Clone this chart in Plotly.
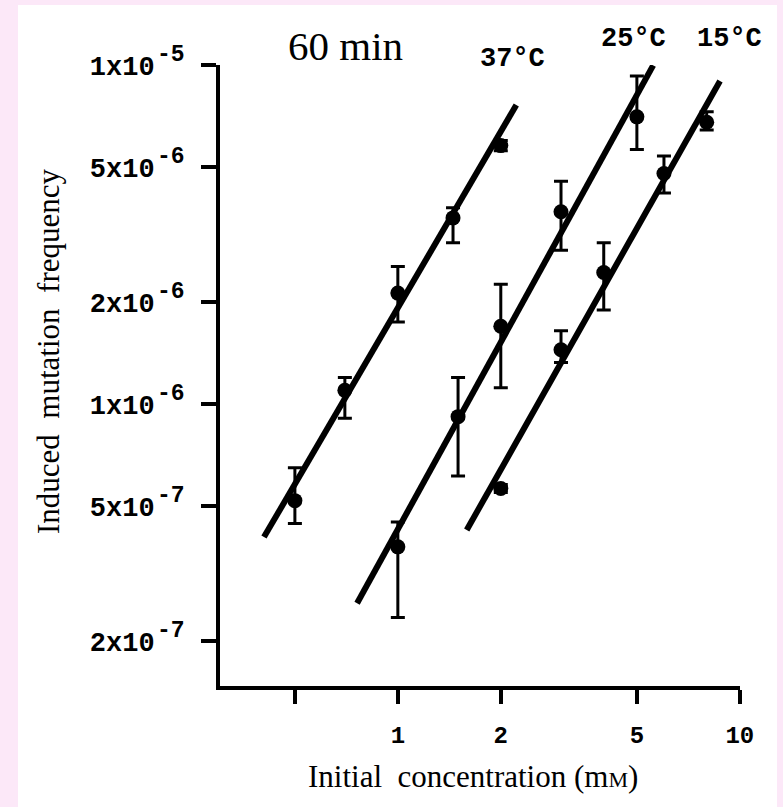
import math
import plotly.graph_objects as go

# ---------------- data ----------------
conc_37 = [0.5, 0.7, 1.0, 1.45, 2.0]
freq_37 = [5.2e-7, 1.10e-6, 2.13e-6, 3.55e-6, 5.8e-6]
upper_37 = [6.5e-7, 1.20e-6, 2.55e-6, 3.8e-6, 6.0e-6]
lower_37 = [4.45e-7, 9.1e-7, 1.75e-6, 3.0e-6, 5.6e-6]
fit_x_37 = [0.406, 2.22]
fit_y_37 = [4.06e-7, 7.64e-6]

conc_25 = [1.0, 1.5, 2.0, 3.0, 5.0]
freq_25 = [3.8e-7, 9.2e-7, 1.70e-6, 3.7e-6, 7.05e-6]
upper_25 = [4.5e-7, 1.20e-6, 2.26e-6, 4.55e-6, 9.3e-6]
lower_25 = [2.35e-7, 6.15e-7, 1.12e-6, 2.85e-6, 5.65e-6]
fit_x_25 = [0.76, 5.58]
fit_y_25 = [2.59e-7, 1.0e-5]

conc_15 = [2.0, 3.0, 4.0, 6.0, 8.0]
freq_15 = [5.65e-7, 1.45e-6, 2.45e-6, 4.8e-6, 6.8e-6]
upper_15 = [5.8e-7, 1.65e-6, 3.0e-6, 5.4e-6, 7.3e-6]
lower_15 = [5.5e-7, 1.33e-6, 1.9e-6, 4.2e-6, 6.45e-6]
fit_x_15 = [1.59, 8.75]
fit_y_15 = [4.26e-7, 9.0e-6]

x_tickvals = [0.5, 1, 2, 5, 10]
x_ticktext = ["", "1", "2", "5", "10"]
y_tickvals = [1e-5, 5e-6, 2e-6, 1e-6, 5e-7, 2e-7]
y_mantissa = ["1x10", "5x10", "2x10", "1x10", "5x10", "2x10"]
y_exponent = ["-5", "-6", "-6", "-6", "-7", "-7"]

series_labels = ["37°C", "25°C", "15°C"]
panel_title = "60 min"
x_title = "Initial  concentration (m<span style='font-size:22px'>M</span>)"
y_title = "Induced  mutation  frequency"

# ---------------- layout geometry ----------------
W, H = 783, 807
ML, MR, MT, MB = 220, 43, 65, 121
PW, PH = W - ML - MR, H - MT - MB


def px(xp):
    return (xp - ML) / PW


def py(yp):
    return (H - MB - yp) / PH


fig = go.Figure()

series = [
    (conc_37, freq_37, upper_37, lower_37, fit_x_37, fit_y_37),
    (conc_25, freq_25, upper_25, lower_25, fit_x_25, fit_y_25),
    (conc_15, freq_15, upper_15, lower_15, fit_x_15, fit_y_15),
]

for cx, fy, up, lo, fx, ffy in series:
    fig.add_trace(go.Scatter(
        x=fx, y=ffy, mode="lines",
        line=dict(color="black", width=6),
        cliponaxis=False, showlegend=False, hoverinfo="skip"))
    fig.add_trace(go.Scatter(
        x=cx, y=fy, mode="markers",
        marker=dict(color="black", size=15, symbol="circle"),
        error_y=dict(type="data", symmetric=False,
                     array=[u - v for u, v in zip(up, fy)],
                     arrayminus=[v - l for v, l in zip(fy, lo)],
                     color="black", thickness=3, width=7),
        cliponaxis=False, showlegend=False))

mono = "Liberation Mono, Courier New, monospace"
serif = "Liberation Serif, Times New Roman, serif"

fig.update_xaxes(
    type="log", range=[-0.52, 1.0005],
    tickvals=x_tickvals, ticktext=x_ticktext,
    ticks="outside", ticklen=14, tickwidth=4, tickcolor="black",
    showline=True, linewidth=4, linecolor="black",
    showgrid=False, zeroline=False,
    tickfont=dict(family=mono, size=24, color="black", weight="bold"),
    ticklabelstandoff=10)
fig.update_yaxes(
    type="log", range=[-6.8307, -4.9988],
    tickvals=y_tickvals, ticktext=y_mantissa,
    ticks="outside", ticklen=15, tickwidth=4, tickcolor="black",
    showline=True, linewidth=4, linecolor="black",
    showgrid=False, zeroline=False,
    tickfont=dict(family=mono, size=27, color="black", weight="bold"),
    ticklabelstandoff=41)

annotations = [
    dict(text=panel_title, x=px(345), y=py(46), font=dict(family=serif, size=41, color="black")),
    dict(text=series_labels[0], x=px(512), y=py(59), font=dict(family=mono, size=27, color="black", weight="bold")),
    dict(text=series_labels[1], x=px(633), y=py(39), font=dict(family=mono, size=27, color="black", weight="bold")),
    dict(text=series_labels[2], x=px(729), y=py(39), font=dict(family=mono, size=27, color="black", weight="bold")),
    dict(text=x_title, x=px(473), y=py(776), font=dict(family=serif, size=31, color="black")),
    dict(text=y_title, x=px(48), y=py(352), textangle=-90, font=dict(family=serif, size=31, color="black")),
]
for a in annotations:
    a.update(xref="paper", yref="paper", showarrow=False, xanchor="center", yanchor="middle")

# exponents of the y tick labels, raised next to the mantissa
for tv, ex in zip(y_tickvals, y_exponent):
    annotations.append(dict(
        text=ex, xref="paper", yref="y", x=px(155), y=math.log10(tv),
        xanchor="left", yanchor="middle", yshift=10, showarrow=False,
        font=dict(family=mono, size=23, color="black", weight="bold")))

fig.update_layout(
    width=W, height=H,
    margin=dict(l=ML, r=MR, t=MT, b=MB, pad=0),
    paper_bgcolor="#fce8f8", plot_bgcolor="rgba(0,0,0,0)",
    annotations=annotations,
    shapes=[dict(type="rect", xref="paper", yref="paper",
                 x0=px(18), x1=px(777), y0=py(H + 5), y1=py(5),
                 fillcolor="white", line=dict(width=0), layer="below")],
)

fig.write_html(
    "out.html",
    config={"displayModeBar": False},
    post_script="document.body.style.margin='0';document.body.style.overflow='hidden';",
)
